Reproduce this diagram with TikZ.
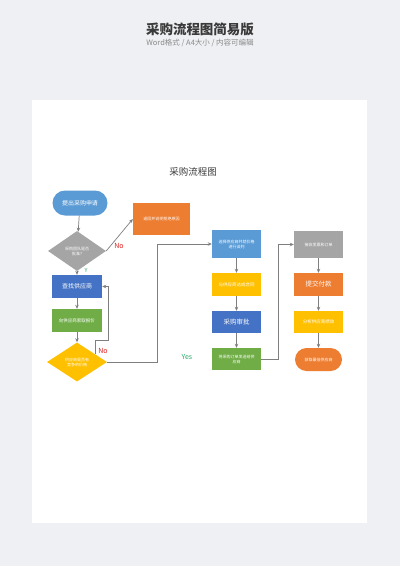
\documentclass[tikz,border=0pt]{standalone}
\usepackage{fontspec}
\setmainfont{Noto Sans CJK SC}
\usetikzlibrary{shapes.geometric,shapes.misc,arrows.meta,calc}
\definecolor{pagebg}{HTML}{EEF0F3}
\definecolor{cblue}{HTML}{5B9BD5}
\definecolor{dblue}{HTML}{4472C4}
\definecolor{corange}{HTML}{ED7D31}
\definecolor{cgreen}{HTML}{70AD47}
\definecolor{cyellow}{HTML}{FFC000}
\definecolor{cgray}{HTML}{A5A5A5}
\definecolor{linegray}{HTML}{7F7F7F}
\definecolor{titlegray}{HTML}{3A3A3A}
\definecolor{subgray}{HTML}{8A8A8A}
\definecolor{nored}{HTML}{E02020}
\definecolor{yesgreen}{HTML}{2DAA6A}
\tikzset{
  box/.style={rectangle, minimum width=49pt, minimum height=23pt, inner sep=1pt, text=white, font=\fontsize{4}{5}\selectfont, align=center, text width=46pt},
  pill/.style={rounded rectangle, minimum width=57pt, minimum height=25pt, inner sep=1pt, text=white, align=center},
  dia/.style={diamond, aspect=1.5, inner sep=0pt, text=white, font=\fontsize{4}{5}\selectfont, align=center},
  conn/.style={draw=linegray, line width=0.7pt, -{Stealth[length=4pt,width=3.5pt]}},
  lab/.style={font=\fontsize{7}{8}\selectfont}
}
\begin{document}
\begin{tikzpicture}[x=1pt,y=-1pt]
\fill[pagebg] (0,0) rectangle (400,566);
\useasboundingbox (0,0) rectangle (400,566);
\fill[white] (32,100) rectangle (367,523);
\node[font=\bfseries\fontsize{13.5}{15}\selectfont, text=titlegray] (title) at (200,29) {采购流程图简易版};
\node[font=\fontsize{7.5}{9}\selectfont, text=subgray] (sub) at (200,43) {Word格式 / A4大小 / 内容可编辑};
\node[font=\fontsize{9.5}{11}\selectfont, text=titlegray] (ctitle) at (193,172) {采购流程图};

% column 1
\node[pill, fill=cblue, minimum width=57pt, minimum height=25pt, font=\fontsize{6}{7}\selectfont] (apply) at (80,203) {提出采购申请};
\node[dia, fill=cgray, minimum width=58pt, minimum height=40pt] (d1) at (77,251) {采购团队是否\\批准?};
\node[box, fill=corange, minimum width=57pt, minimum height=32pt, text width=54pt] (reject) at (161.5,219) {退回并说明拒绝原因};
\node[box, fill=dblue, minimum width=50pt, font=\fontsize{6}{7}\selectfont] (search) at (77,286.5) {查找供应商};
\node[box, fill=cgreen, minimum width=50pt, font=\fontsize{4.5}{5.5}\selectfont] (quote) at (77,320.5) {向供应商索取报价};
\node[dia, fill=cyellow, minimum width=60pt, minimum height=39pt] (d2) at (77,362) {供应商是否有\\竞争的价格};

% column 2
\node[box, fill=cblue, minimum height=28pt] (select) at (236.5,244) {选择供应商并就价格\\进行谈判};
\node[box, fill=cyellow, font=\fontsize{4.5}{5.5}\selectfont] (contract) at (236.5,284.5) {与供应商达成合同};
\node[box, fill=dblue, minimum height=22pt, font=\fontsize{6.5}{7.5}\selectfont] (approve) at (236.5,322) {采购审批};
\node[box, fill=cgreen, minimum height=22pt] (send) at (236.5,359) {将采购订单发送给供\\应商};

% column 3
\node[box, fill=cgray, minimum height=27pt] (invoice) at (318.5,244.5) {接收发票和订单};
\node[box, fill=corange, font=\fontsize{6.5}{7.5}\selectfont] (pay) at (318.5,284.5) {提交付款};
\node[box, fill=cyellow, minimum height=22pt, font=\fontsize{4.5}{5.5}\selectfont] (perf) at (318.5,322) {分析供应商绩效};
\node[pill, fill=corange, minimum width=49pt, minimum height=23pt, font=\fontsize{4}{5}\selectfont] (best) at (318.5,359.5) {获取最佳供应商};

% connectors
\draw[conn] (apply) -- (d1);
\draw[conn] (d1.east) -- (reject.west);
\node[lab, text=nored] (no1) at (119,246) {No};
\draw[conn] (d1) -- (search);
\node[lab, text=yesgreen, font=\fontsize{5.5}{6}\selectfont] (y1) at (86,270) {Y};
\draw[conn] (search) -- (quote);
\draw[conn] (quote) -- (d2);
\coordinate (lp) at ($(d2.north)!0.6!(d2.east)$);
\coordinate (lc) at (108,340);
\draw[conn] (lp) |- (lc) |- (search.east);
\node[lab, text=nored] (no2) at (103,351) {No};
\coordinate (yc) at (157,362);
\draw[conn] (d2.east) -- (yc) |- (select.west);
\node[lab, text=yesgreen] (yes) at (187,357) {Yes};
\draw[conn] (select) -- (contract);
\draw[conn] (contract) -- (approve);
\draw[conn] (approve) -- (send);
\coordinate (sc) at (278,359);
\draw[conn] (send.east) -- (sc) |- (invoice.west);
\draw[conn] (invoice) -- (pay);
\draw[conn] (pay) -- (perf);
\draw[conn] (perf) -- (best);
\end{tikzpicture}
\end{document}
